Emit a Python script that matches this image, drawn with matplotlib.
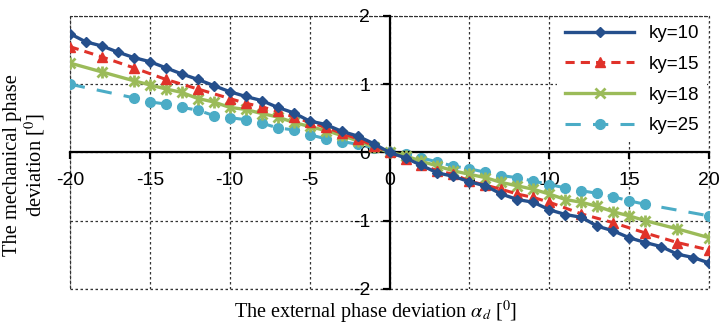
import matplotlib.pyplot as plt
from matplotlib.patches import Rectangle

# data
x10 = list(range(-20, 21))
y10 = [1.74, 1.62, 1.56, 1.47, 1.39, 1.33, 1.24, 1.15, 1.07, 0.98, 0.89,
       0.82, 0.76, 0.66, 0.58, 0.46, 0.41, 0.31, 0.24, 0.13, 0.0,
       -0.08, -0.19, -0.30, -0.35, -0.43, -0.49, -0.61, -0.69, -0.73, -0.84,
       -0.91, -0.95, -1.08, -1.15, -1.25, -1.32, -1.38, -1.49, -1.54, -1.62]

x15 = [-20, -18, -16, -14, -12] + list(range(-10, 11)) + [12, 14, 16, 18, 20]
y15 = [1.55, 1.40, 1.24, 1.07, 0.93, 0.79,
       0.72, 0.67, 0.60, 0.52, 0.44, 0.37, 0.28, 0.20, 0.10, 0.0,
       -0.10, -0.18, -0.27, -0.32, -0.42, -0.48, -0.54, -0.61, -0.66, -0.73,
       -0.90, -1.03, -1.18, -1.32, -1.43]

x18 = [-20, -18] + list(range(-16, 17)) + [18, 20]
y18 = [1.31, 1.18, 1.05, 0.99, 0.93, 0.88, 0.79, 0.74, 0.66,
       0.63, 0.57, 0.52, 0.44, 0.38, 0.32, 0.25, 0.17, 0.08, 0.0,
       -0.05, -0.13, -0.20, -0.27, -0.32, -0.37, -0.44, -0.49, -0.54, -0.61,
       -0.69, -0.73, -0.79, -0.87, -0.93, -1.00, -1.12, -1.25]

x25 = [-20] + list(range(-16, 17)) + [20]
y25 = [1.00, 0.80, 0.74, 0.71, 0.66, 0.62, 0.54, 0.51,
       0.48, 0.43, 0.36, 0.33, 0.26, 0.20, 0.16, 0.12, 0.07, 0.0,
       -0.03, -0.08, -0.14, -0.20, -0.24, -0.29, -0.34, -0.37, -0.42, -0.47,
       -0.52, -0.56, -0.60, -0.65, -0.71, -0.76, -0.93]

xticks = [-20, -15, -10, -5, 0, 5, 10, 15, 20]
yticks = [-2, -1, 0, 1, 2]

plt.rcParams['mathtext.fontset'] = 'stix'
plt.rcParams['axes.unicode_minus'] = False

fig = plt.figure(figsize=(7.2, 3.25), dpi=100)
ax = fig.add_axes([0.097, 0.111, 0.888, 0.840])

ax.plot(x10, y10, color='#254F8C', lw=2.4, marker='D', ms=5.5, label='ky=10', zorder=5)
ax.plot(x15, y15, color='#E0322A', lw=2.2, ls=(0, (3, 2)), marker='^', ms=7,
        label='ky=15', zorder=4)
ax.plot(x18, y18, color='#9BBB59', lw=2.4, marker='x', ms=7, mew=2,
        label='ky=18', zorder=3)
ax.plot(x18, y18, color='#9BBB59', lw=0, marker='|', ms=9, mew=2, zorder=3)
ax.plot(x25, y25, color='#4BACC6', lw=2.2, ls=(0, (5, 4)), marker='o', ms=7,
        label='ky=25', zorder=2)

ax.set_xlim(-20, 20)
ax.set_ylim(-2, 2)
ax.set_xticks(xticks)
ax.set_yticks(yticks)

ax.grid(True, ls=(0, (2, 2)), color='#333333', lw=0.9)
ax.add_patch(Rectangle((0, 0), 1, 1, transform=ax.transAxes, fill=False,
                       ls=(0, (2, 2)), ec='#333333', lw=0.9, clip_on=False))

for s in ['top', 'right']:
    ax.spines[s].set_visible(False)
ax.spines['left'].set_position(('data', 0))
ax.spines['bottom'].set_position(('data', 0))
ax.spines['left'].set_linewidth(1.6)
ax.spines['bottom'].set_linewidth(1.6)
ax.tick_params(direction='out', length=5, width=1.6, labelsize=14, pad=9)
for lab in ax.get_xticklabels() + ax.get_yticklabels():
    lab.set_fontfamily('Liberation Sans')

ax.set_xlabel(r'The external phase deviation $\alpha_d$ [$^0$]',
              fontfamily='Liberation Serif', fontsize=14.5)
ax.xaxis.set_label_coords(0.479, -0.035)
ax.set_ylabel('The mechanical phase\n' + r'deviation [$^0$]',
              fontfamily='Liberation Serif', fontsize=14.8, linespacing=1.0)
ax.yaxis.set_label_coords(-0.036, 0.455)

leg = ax.legend(loc='upper right', frameon=True, facecolor='white', edgecolor='none',
                framealpha=1, fancybox=False, handlelength=3.7, labelspacing=0.72,
                borderaxespad=0.1, prop={'family': 'Liberation Sans', 'size': 13.5})
leg.set_zorder(10)

plt.savefig('out.png', dpi=100)
